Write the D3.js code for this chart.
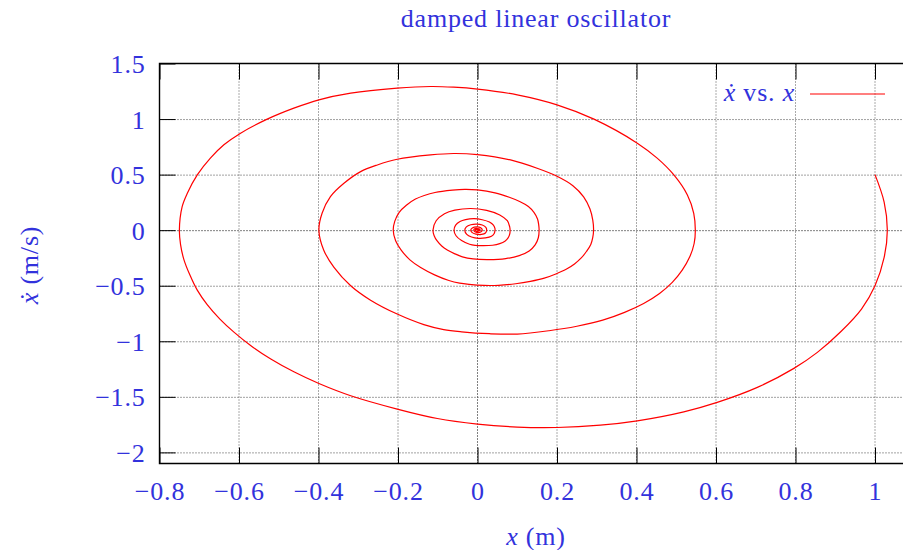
<!DOCTYPE html>
<html>
<head>
<meta charset="utf-8">
<script src="https://cdn.jsdelivr.net/npm/d3@7"></script>
<style>
  body { margin: 0; background: #fff; }
  svg { display: block; }
  text { font-family: "Liberation Serif", "DejaVu Serif", serif; font-size: 26px; fill: #3232dc; letter-spacing: 0.8px; }
</style>
</head>
<body>
<svg id="chart" width="903" height="550"></svg>
<script>
// phase portrait, points: [x (m), xdot (m/s)]
const turn1 = [
  [1.0, 0.5], [1.023, 0.253], [1.031, 0], [1.023, -0.245], [1.0, -0.5], [0.966, -0.71],
  [0.915, -0.91], [0.855, -1.10], [0.796, -1.244], [0.704, -1.415], [0.603, -1.55],
  [0.519, -1.635], [0.402, -1.716], [0.309, -1.755], [0.2, -1.776], [0.1, -1.772],
  [0.0, -1.745], [-0.101, -1.695], [-0.202, -1.61], [-0.319, -1.49], [-0.399, -1.38],
  [-0.462, -1.275], [-0.52, -1.16], [-0.57, -1.04], [-0.612, -0.92], [-0.648, -0.8],
  [-0.68, -0.67], [-0.705, -0.54], [-0.724, -0.4], [-0.739, -0.26], [-0.747, -0.13],
  [-0.75, 0], [-0.743, 0.212], [-0.73, 0.332], [-0.705, 0.497], [-0.672, 0.648],
  [-0.638, 0.768], [-0.596, 0.873], [-0.529, 0.999], [-0.462, 1.098], [-0.399, 1.173],
  [-0.319, 1.233], [-0.202, 1.278], [-0.118, 1.293], [-0.06, 1.287], [0, 1.27], [0.1, 1.218],
  [0.2, 1.128], [0.293, 0.999], [0.402, 0.783], [0.452, 0.648], [0.494, 0.497], [0.528, 0.317],
  [0.544, 0.152]
];
const turn2 = [
  [0.548, 0], [0.545, -0.12], [0.534, -0.24], [0.515, -0.36], [0.49, -0.47], [0.458, -0.57],
  [0.418, -0.66], [0.37, -0.74], [0.315, -0.81], [0.25, -0.865], [0.18, -0.905], [0.1, -0.935],
  [0.03, -0.932], [-0.04, -0.915], [-0.085, -0.895], [-0.135, -0.85], [-0.202, -0.755],
  [-0.269, -0.63], [-0.319, -0.5], [-0.361, -0.335], [-0.387, -0.178], [-0.399, 0],
  [-0.391, 0.152], [-0.37, 0.302], [-0.336, 0.422], [-0.294, 0.527], [-0.252, 0.587],
  [-0.202, 0.638], [-0.118, 0.677], [-0.06, 0.69], [0, 0.68], [0.083, 0.632], [0.15, 0.557],
  [0.2, 0.485], [0.24, 0.4], [0.267, 0.3], [0.283, 0.19], [0.29, 0.09]
];
const turn3 = [
  [0.292, 0], [0.29, -0.064], [0.285, -0.128], [0.274, -0.192], [0.261, -0.25], [0.244, -0.304],
  [0.223, -0.352], [0.197, -0.394], [0.168, -0.432], [0.133, -0.461], [0.096, -0.482],
  [0.053, -0.496], [0.016, -0.497], [-0.021, -0.488], [-0.045, -0.477], [-0.072, -0.453],
  [-0.108, -0.402], [-0.143, -0.336], [-0.17, -0.267], [-0.192, -0.179], [-0.206, -0.095],
  [-0.212, 0], [-0.208, 0.081], [-0.197, 0.161], [-0.179, 0.225], [-0.156, 0.28],
  [-0.134, 0.312], [-0.107, 0.339], [-0.063, 0.36], [-0.032, 0.367], [0, 0.362], [0.044, 0.336],
  [0.08, 0.296], [0.106, 0.258], [0.128, 0.213], [0.142, 0.16], [0.151, 0.101], [0.154, 0.048]
];
const turn4 = [
  [0.155, 0], [0.153, -0.068], [0.145, -0.133], [0.13, -0.187], [0.105, -0.229], [0.071, -0.256],
  [0.028, -0.265], [-0.011, -0.259], [-0.038, -0.24], [-0.057, -0.213], [-0.076, -0.178],
  [-0.09, -0.142], [-0.102, -0.095], [-0.109, -0.05], [-0.112, 0], [-0.104, 0.085],
  [-0.083, 0.148], [-0.057, 0.18], [-0.017, 0.195], [0.023, 0.178], [0.056, 0.137],
  [0.075, 0.085], [0.081, 0.03]
];
const turn5 = [
  [0.082, 0], [0.081, -0.036], [0.077, -0.07], [0.069, -0.099], [0.056, -0.121], [0.038, -0.136],
  [0.015, -0.14], [-0.006, -0.137], [-0.02, -0.127], [-0.04, -0.094], [-0.054, -0.05],
  [-0.059, 0], [-0.055, 0.045], [-0.044, 0.078], [-0.03, 0.095], [-0.009, 0.103],
  [0.012, 0.094], [0.03, 0.073], [0.04, 0.045], [0.044, 0.013]
];
const turn6 = [
  [0.044, 0], [0.042, -0.03], [0.035, -0.055], [0.02, -0.07], [0.003, -0.074], [-0.015, -0.062],
  [-0.027, -0.038], [-0.032, 0], [-0.028, 0.03], [-0.017, 0.049], [-0.002, 0.055],
  [0.012, 0.046], [0.021, 0.026]
];
const turnRest = [
  [0.023, 0], [0.02, -0.025], [0.01, -0.038], [-0.004, -0.036], [-0.014, -0.02], [-0.017, 0],
  [-0.013, 0.019], [-0.002, 0.029], [0.008, 0.022], [0.012, 0], [0.008, -0.016], [-0.002, -0.02],
  [-0.009, -0.005], [-0.008, 0.01], [0, 0.015], [0.006, 0.008], [0.006, 0], [0.004, -0.008],
  [-0.003, -0.008], [-0.005, 0.003], [0, 0.007], [0.003, 0.002], [0.002, -0.002], [0, 0]
];

const xTicks = [-0.8, -0.6, -0.4, -0.2, 0, 0.2, 0.4, 0.6, 0.8, 1];
const yTicks = [-2, -1.5, -1, -0.5, 0, 0.5, 1, 1.5];

const spiral = [].concat(turn1, turn2, turn3, turn4, turn5, turn6, turnRest);

const svg = d3.select("#chart");
const plotLeft = 159.5, plotTop = 63.5, plotBottom = 463.5, plotRight = 954.5;

const x = d3.scaleLinear().domain([-0.8, 1.2]).range([plotLeft, plotRight]);
const y = d3.scaleLinear().domain([-2.1, 1.5]).range([plotBottom, plotTop]);
const fmt = d3.format("~g");

// grid, dotted
const grid = svg.append("g").attr("stroke-dasharray", "1,2").attr("stroke-width", 1);
grid.selectAll("line.gx").data(xTicks.slice(1)).enter().append("line")
    .attr("x1", d => x(d)).attr("x2", d => x(d))
    .attr("y1", plotTop).attr("y2", plotBottom)
    .attr("stroke", d => d === 0 ? "#000" : "#555");
grid.selectAll("line.gy").data(yTicks.slice(0, -1)).enter().append("line")
    .attr("x1", plotLeft).attr("x2", plotRight)
    .attr("y1", d => y(d) + 0.5).attr("y2", d => y(d) + 0.5)
    .attr("stroke", d => d === 0 ? "#000" : "#444");

// axes (ticks point inward)
function tidy(g) {
    g.attr("font-size", null).attr("font-family", null);
    g.select(".domain").remove();
    g.selectAll(".tick line").attr("stroke", "#000").attr("stroke-width", 1);
}
svg.append("g").attr("transform", `translate(0,${plotBottom})`)
    .call(d3.axisBottom(x).tickValues(xTicks).tickFormat(fmt).tickSizeInner(-16).tickSizeOuter(0).tickPadding(0))
    .call(tidy)
    .selectAll(".tick text").attr("dy", null).attr("y", 36.5);
svg.append("g").attr("transform", `translate(0,${plotTop})`)
    .call(d3.axisTop(x).tickValues(xTicks).tickFormat("").tickSizeInner(-16).tickSizeOuter(0))
    .call(tidy);
svg.append("g").attr("transform", `translate(${plotLeft},0)`)
    .call(d3.axisLeft(y).tickValues(yTicks).tickFormat(fmt).tickSizeInner(-16).tickSizeOuter(0).tickPadding(14))
    .call(tidy)
    .selectAll(".tick text").attr("dy", null).attr("y", 9);

// frame
svg.append("path")
    .attr("d", `M${plotRight},${plotTop}H${plotLeft}V${plotBottom}H${plotRight}`)
    .attr("fill", "none").attr("stroke", "#000").attr("stroke-width", 1.4);

// spiral
const line = d3.line().curve(d3.curveCatmullRom.alpha(0.5))
    .x(d => x(d[0])).y(d => y(d[1]));
svg.append("path").datum(spiral)
    .attr("d", line)
    .attr("fill", "none").attr("stroke", "#ff0000").attr("stroke-width", 1.2)
    .attr("stroke-linejoin", "round");

// legend
const legend = svg.append("text").attr("x", 795).attr("y", 101).attr("text-anchor", "end");
legend.append("tspan").attr("font-style", "italic").text("ẋ");
legend.append("tspan").text(" vs. ");
legend.append("tspan").attr("font-style", "italic").text("x");
svg.append("line")
    .attr("x1", 810).attr("x2", 885).attr("y1", 94).attr("y2", 94)
    .attr("stroke", "#ff0000").attr("stroke-width", 1.2);

// titles
svg.append("text").attr("x", 536).attr("y", 27).attr("text-anchor", "middle")
    .text("damped linear oscillator");

const xl = svg.append("text").attr("x", 536).attr("y", 545).attr("text-anchor", "middle");
xl.append("tspan").attr("font-style", "italic").text("x");
xl.append("tspan").text(" (m)");

const yl = svg.append("text").attr("transform", "translate(38,265) rotate(-90)").attr("text-anchor", "middle");
yl.append("tspan").attr("font-style", "italic").text("ẋ");
yl.append("tspan").text(" (m/s)");
</script>
</body>
</html>
